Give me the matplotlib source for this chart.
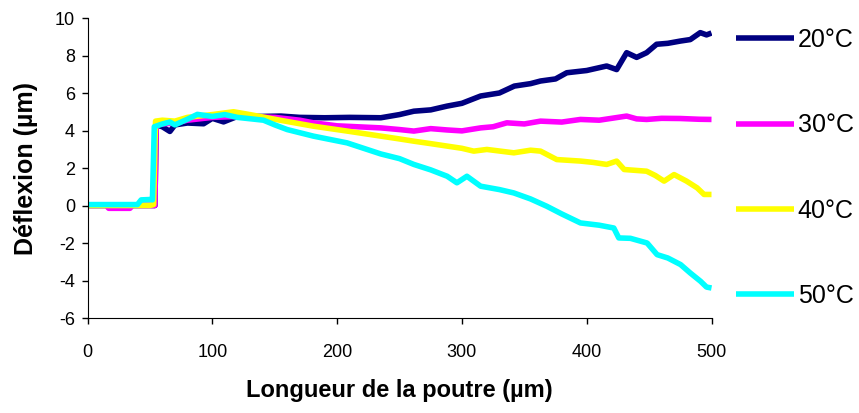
import matplotlib.pyplot as plt

plt.rcParams['font.family'] = ['Liberation Sans', 'DejaVu Sans']
plt.rcParams['axes.unicode_minus'] = False

labels = ["20°C", "30°C", "40°C", "50°C"]
colors = ["#000080", "#FF00FF", "#FFFF00", "#00FFFF"]

# 20 °C
x20 = [0, 52, 54, 55, 60, 66, 70, 80, 93, 100, 109, 120, 140, 155, 170, 190, 210,
       235, 250, 261.5, 275, 288, 300, 315, 330, 342, 355, 363, 375, 384, 400,
       416, 424, 432, 440, 448, 456, 465, 475, 483, 491, 496, 500]
y20 = [0, 0, 0, 4.3, 4.2, 3.95, 4.3, 4.4, 4.36, 4.65, 4.46, 4.75, 4.75, 4.77, 4.7,
       4.68, 4.7, 4.68, 4.85, 5.03, 5.1, 5.3, 5.45, 5.84, 6.0, 6.37, 6.5, 6.64,
       6.75, 7.08, 7.2, 7.44, 7.25, 8.15, 7.9, 8.15, 8.6, 8.65, 8.77, 8.85, 9.22,
       9.1, 9.2]

# 30 °C
x30 = [0, 15, 17, 34, 36, 52, 54, 55, 60, 70, 80, 100, 120, 150, 170, 181, 200,
       235, 250, 261.5, 275, 288, 300, 315, 325, 336, 350, 363, 380, 395, 410,
       425, 432, 440, 448, 460, 475, 490, 500]
y30 = [0, 0, -0.15, -0.15, 0, 0, 0, 4.3, 4.35, 4.4, 4.55, 4.7, 4.75, 4.7, 4.55,
       4.41, 4.25, 4.14, 4.05, 3.97, 4.1, 4.03, 3.98, 4.14, 4.2, 4.41, 4.35, 4.5,
       4.45, 4.59, 4.55, 4.7, 4.77, 4.62, 4.59, 4.65, 4.64, 4.6, 4.59]

# 40 °C
x40 = [0, 50, 53, 54.5, 60, 70, 80, 100, 117, 130, 155, 181, 208, 235, 250,
       261.5, 275, 288, 300, 309.5, 320, 341.6, 355, 363, 376, 395, 405, 416,
       424, 430, 448, 455, 462, 470, 480, 488.5, 494, 500]
y40 = [0, 0, 0.05, 4.5, 4.55, 4.5, 4.7, 4.85, 5.0, 4.85, 4.54, 4.23, 3.97, 3.7,
       3.55, 3.43, 3.3, 3.17, 3.05, 2.9, 2.99, 2.81, 2.95, 2.9, 2.45, 2.37, 2.3,
       2.19, 2.37, 1.92, 1.83, 1.6, 1.3, 1.65, 1.3, 0.94, 0.59, 0.59]

# 50 °C
x50 = [0, 40, 43, 50, 52, 53.5, 60, 66, 70, 80, 88, 100, 110, 120, 141, 150,
       160, 181, 208, 235, 250, 261.5, 275, 288.2, 296, 304, 315, 330, 341.6,
       355, 368, 380, 395, 410, 421.7, 425.7, 435, 448.4, 456.4, 465, 475.2,
       483, 491.2, 496, 500]
y50 = [0.05, 0.05, 0.3, 0.32, 0.3, 4.2, 4.35, 4.45, 4.3, 4.6, 4.86, 4.75, 4.85,
       4.7, 4.55, 4.3, 4.05, 3.7, 3.34, 2.75, 2.5, 2.19, 1.9, 1.56, 1.21, 1.56,
       1.03, 0.85, 0.67, 0.35, -0.04, -0.45, -0.93, -1.05, -1.2, -1.73, -1.75,
       -2.0, -2.62, -2.8, -3.15, -3.6, -4.04, -4.35, -4.4]

series = [(x20, y20), (x30, y30), (x40, y40), (x50, y50)]

fig = plt.figure(figsize=(8.59, 4.13), dpi=100)
ax = fig.add_axes([0.1019, 0.230, 0.7264, 0.7264])

for (xs, ys), c, lab in zip(series, colors, labels):
    ax.plot(xs, ys, color=c, lw=4, label=lab, solid_capstyle='butt')

ax.set_xlim(0, 500)
ax.set_ylim(-6, 10)
ax.set_xticks(range(0, 501, 100))
ax.set_yticks(range(-6, 11, 2))
ax.spines['top'].set_visible(False)
ax.spines['right'].set_visible(False)
ax.tick_params(axis='both', labelsize=13, length=4, width=1)
ax.tick_params(axis='x', pad=15)
ax.tick_params(axis='y', pad=5)

ax.set_xlabel("Longueur de la poutre (µm)", fontsize=17, fontweight='bold',
              labelpad=13)
ax.set_ylabel("Déflexion (µm)", fontsize=18, fontweight='bold', labelpad=12)

leg = ax.legend(loc='upper left', bbox_to_anchor=(1.024, 1.0), frameon=False,
                fontsize=18, handlelength=2.3, handletextpad=0.15,
                labelspacing=2.45, borderaxespad=0)
for line in leg.get_lines():
    line.set_linewidth(4)

fig.savefig("out.png", dpi=100)
